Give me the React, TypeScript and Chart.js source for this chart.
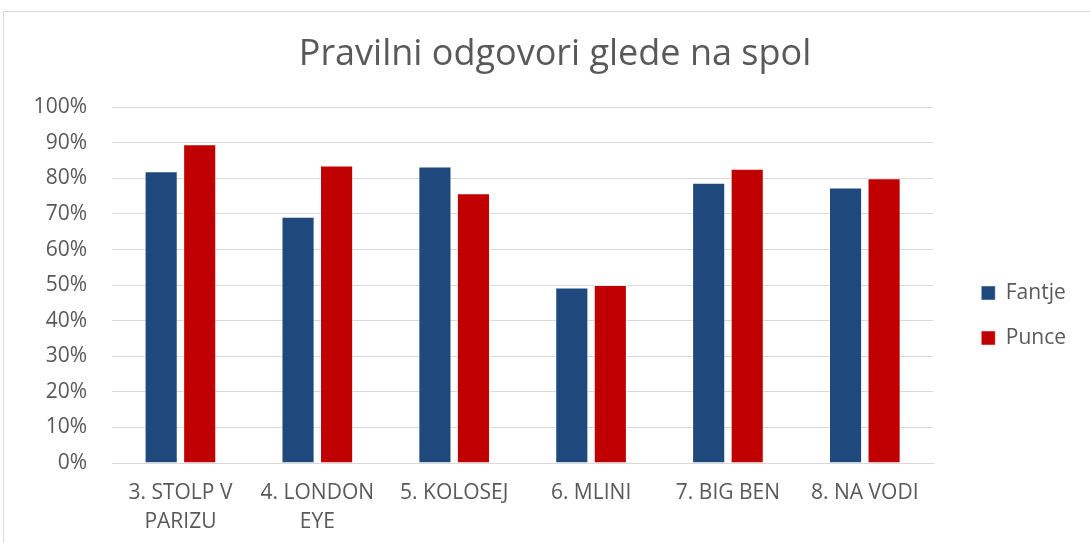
import React, { useEffect, useRef } from "react";
import { Chart, registerables } from "chart.js";

Chart.register(...registerables);

const TITLE = "Pravilni odgovori glede na spol";
const CATEGORIES: (string | string[])[] = [
  ["3. STOLP V", "PARIZU"],
  ["4. LONDON", "EYE"],
  "5. KOLOSEJ",
  "6. MLINI",
  "7. BIG BEN",
  "8. NA VODI",
];
const FANTJE = [82.0, 69.2, 83.3, 49.3, 78.8, 77.4];
const PUNCE = [89.6, 83.6, 75.8, 50.0, 82.7, 80.0];
const Y_TICKS = [0, 10, 20, 30, 40, 50, 60, 70, 80, 90, 100];

const FONT = "'Open Sans', 'DejaVu Sans', sans-serif";
const TEXT = "#595959";

export default function App() {
  const ref = useRef<HTMLCanvasElement | null>(null);

  useEffect(() => {
    if (!ref.current) return;
    const chart = new Chart(ref.current, {
      type: "bar",
      data: {
        labels: CATEGORIES,
        datasets: [
          {
            label: "Fantje",
            data: FANTJE,
            backgroundColor: "#1F497D",
            borderColor: "rgba(255,255,255,0.45)",
            borderWidth: 1,
            categoryPercentage: 0.563,
            barPercentage: 0.86,
          },
          {
            label: "Punce",
            data: PUNCE,
            backgroundColor: "#C00000",
            borderColor: "rgba(255,255,255,0.45)",
            borderWidth: 1,
            categoryPercentage: 0.563,
            barPercentage: 0.86,
          },
        ],
      },
      options: {
        animation: false,
        responsive: false,
        maintainAspectRatio: false,
        layout: { padding: { left: 34, right: 14, top: 0, bottom: 0 } },
        plugins: {
          title: {
            display: true,
            text: TITLE,
            color: TEXT,
            font: { family: FONT, size: 36, weight: "normal" },
            padding: { top: 33, bottom: 31 },
          },
          legend: {
            position: "right",
            title: {
              display: true,
              text: " ",
              font: { family: FONT, size: 20 },
              padding: { top: 0, bottom: 64 },
            },
            labels: {
              color: TEXT,
              font: { family: FONT, size: 21 },
              boxWidth: 14,
              boxHeight: 14,
              padding: 24,
            },
          },
          tooltip: { enabled: false },
        },
        scales: {
          x: {
            afterFit: (s: any) => {
              s.height = 80;
            },
            grid: { display: false, drawTicks: false },
            border: { display: true, color: "#d9d9d9", width: 1 },
            ticks: {
              color: TEXT,
              font: { family: FONT, size: 21, lineHeight: 1.35 },
              padding: 16,
              maxRotation: 0,
              autoSkip: false,
            },
          },
          y: {
            min: 0,
            max: 100,
            afterFit: (s: any) => {
              s.width = 78;
            },
            afterBuildTicks: (s: any) => {
              s.ticks = Y_TICKS.map((v) => ({ value: v }));
            },
            grid: { color: "#d9d9d9", lineWidth: 1, drawTicks: false },
            border: { display: false },
            ticks: {
              color: TEXT,
              font: { family: FONT, size: 21 },
              padding: 25,
              callback: (v: any) => v + "%",
            },
          },
          gap: {
            position: "right",
            display: true,
            min: 0,
            max: 100,
            afterFit: (s: any) => {
              s.width = 24;
            },
            grid: { display: false, drawTicks: false },
            border: { display: false },
            ticks: { display: false },
          },
        },
      },
    } as any);
    return () => chart.destroy();
  }, []);

  return (
    <div style={{ position: "absolute", left: 0, top: 0, width: 1090, height: 543, background: "#fff", overflow: "hidden" }}>
      <canvas ref={ref} width={1090} height={543} style={{ position: "absolute", left: 0, top: 0 }} />
      <div
        style={{
          position: "absolute",
          left: 3,
          top: 11,
          width: 1200,
          height: 700,
          border: "1.5px solid #d9d9d9",
          pointerEvents: "none",
        }}
      />
    </div>
  );
}
